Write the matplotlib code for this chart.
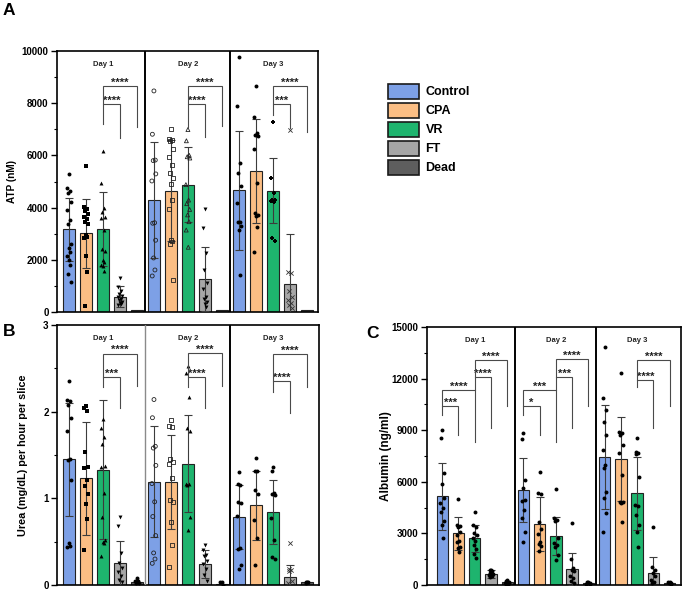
import matplotlib
matplotlib.use("Agg")
import matplotlib.pyplot as plt
from matplotlib.patches import Patch
import numpy as np

plt.rcParams['font.family'] = ['Liberation Sans', 'DejaVu Sans']

groups = ["Control", "CPA", "VR", "FT", "Dead"]
days = ["Day 1", "Day 2", "Day 3"]
colors = ["#7DA0E6", "#FBBE84", "#1EB46E", "#A6A6A6", "#5E5E5E"]

# ---------------- Panel A: ATP (nM) ----------------
atp_mean = [[3170, 3010, 3170, 590, 70],
            [4290, 4650, 4880, 1260, 70],
            [4670, 5390, 4650, 1060, 70]]
atp_sd = [[1210, 1310, 1420, 410, 0],
          [2230, 1940, 1450, 1240, 0],
          [2280, 1990, 1240, 1940, 0]]
atp_pts_d1 = [[5280, 4740, 4650, 4570, 4230, 3910, 3520, 3370, 2590, 2440, 2310, 2150, 1990, 1790, 1460, 1150],
              [5610, 4040, 3930, 3860, 3740, 3650, 3550, 3460, 3370, 2950, 2860, 2820, 2150, 1530, 230],
              [6180, 4930, 4000, 3840, 3650, 3590, 3140, 2410, 2350, 1990, 1920, 1800, 1760, 1570],
              [1320, 950, 820, 700, 620, 560, 500, 450, 400, 350, 300, 250],
              []]
atp_pts_d2 = [[8470, 6810, 5820, 5800, 5290, 5020, 3420, 3400, 2750, 2070, 1610, 1380],
              [7010, 6620, 6600, 6550, 6250, 5950, 5630, 5340, 5150, 4900, 4290, 3930, 2760, 2700, 2600, 1230],
              [6990, 6560, 6000, 5950, 5900, 4880, 4290, 4150, 3930, 3720, 3460, 3140, 2480],
              [3960, 3230, 2270, 1610, 1110, 870, 560, 480, 390, 300, 200],
              []]
atp_pts_d3 = [[9760, 7890, 5700, 5340, 4830, 4190, 3460, 3440, 3300, 3130, 1420],
              [8670, 7480, 6850, 6800, 6740, 6250, 4930, 3780, 3720, 3680, 3270, 2310],
              [7290, 5120, 4550, 4290, 4300, 4250, 4200, 2820, 2730],
              [6970, 1540, 1500, 820, 590, 450, 350, 250, 150],
              []]
# (day, group1, group2, bracket level, left leg end, right leg end, label)
atp_sig = [(0, 2, 4, 8660, 7970, 7090, "****"), (0, 2, 3, 7970, 7200, 6670, "****"),
           (1, 2, 4, 8660, 7960, 7130, "****"), (1, 2, 3, 7960, 7100, 6690, "****"),
           (2, 2, 4, 8660, 7960, 6910, "****"), (2, 2, 3, 7960, 7550, 7040, "***")]

# ---------------- Panel B: Urea ----------------
urea_mean = [[1.45, 1.23, 1.33, 0.25, 0.03],
             [1.19, 1.19, 1.40, 0.24, 0.01],
             [0.78, 0.92, 0.84, 0.09, 0.03]]
urea_sd = [[0.65, 0.65, 0.80, 0.26, 0],
           [0.64, 0.54, 0.56, 0.16, 0],
           [0.37, 0.40, 0.37, 0.14, 0]]
urea_pts_d1 = [[2.35, 2.14, 2.12, 2.08, 1.93, 1.78, 1.45, 1.44, 1.21, 0.48, 0.45, 0.44],
               [2.06, 2.04, 2.01, 1.54, 1.36, 1.35, 1.21, 1.14, 1.05, 0.93, 0.76, 0.40],
               [1.92, 1.81, 1.71, 1.63, 1.37, 1.36, 1.06, 0.79, 0.52, 0.50, 0.48, 0.34],
               [0.79, 0.68, 0.37, 0.25, 0.20, 0.15, 0.10, 0.06, 0.03],
               [0.08, 0.05, 0.05, 0.02, 0.02]]
urea_pts_d2 = [[2.14, 1.93, 1.60, 1.58, 1.38, 1.17, 0.96, 0.79, 0.57, 0.37, 0.30, 0.25],
               [1.90, 1.83, 1.82, 1.45, 1.42, 1.40, 1.23, 0.98, 0.96, 0.73, 0.46, 0.21],
               [2.53, 2.45, 2.17, 1.81, 1.78, 1.17, 1.16, 1.15, 0.79, 0.64],
               [0.46, 0.40, 0.35, 0.33, 0.28, 0.24, 0.18, 0.12, 0.05],
               [0.04, 0.03, 0.0]]
urea_pts_d3 = [[1.30, 1.16, 1.15, 0.96, 0.95, 0.80, 0.43, 0.42, 0.23, 0.19],
               [1.47, 1.32, 1.31, 1.10, 1.05, 0.75, 0.54, 0.23],
               [1.36, 1.31, 1.06, 1.05, 1.04, 0.77, 0.52, 0.32, 0.30],
               [0.48, 0.18, 0.17, 0.16, 0.05, 0.02],
               [0.04, 0.03, 0.03, 0.02]]
urea_sig = [(0, 2, 4, 2.67, 2.40, 2.30, "****"), (0, 2, 3, 2.40, 2.29, 2.04, "***"),
            (1, 2, 4, 2.68, 2.40, 2.30, "****"), (1, 2, 3, 2.40, 2.29, 2.04, "****"),
            (2, 2, 4, 2.66, 2.35, 2.29, "****"), (2, 2, 3, 2.35, 2.23, 1.99, "****")]

# ---------------- Panel C: Albumin ----------------
alb_mean = [[5150, 3000, 2710, 650, 150],
            [5520, 3540, 2850, 930, 100],
            [7420, 7320, 5320, 700, 100]]
alb_sd = [[1950, 970, 770, 250, 0],
          [1870, 1550, 1120, 910, 0],
          [3030, 2420, 2130, 910, 0]]
alb_pts_d1 = [[9000, 8520, 6490, 5900, 5030, 4740, 4490, 4260, 3720, 3480, 2710],
              [4990, 3480, 3420, 3380, 3060, 2900, 2560, 2480, 2220, 2130, 1900],
              [4220, 3480, 3400, 3000, 2900, 2710, 2560, 2320, 2100, 1780, 1550],
              [900, 870, 800, 700, 650, 600, 550, 480],
              [300, 250, 200, 150, 120, 100, 80, 50]]
alb_pts_d2 = [[8810, 8460, 6100, 5620, 4940, 4900, 4360, 3870, 3100, 2520],
              [6580, 5330, 5300, 3680, 3250, 2940, 2520, 2380, 2280, 2000],
              [5560, 3910, 3800, 3700, 2710, 2420, 2300, 2200, 1740, 1450],
              [3580, 1490, 1000, 900, 800, 540, 400, 250, 100],
              [200, 150, 120, 100, 80, 50]]
alb_pts_d3 = [[13840, 10880, 10160, 9480, 8710, 7840, 6970, 6800, 5420, 5030, 4160, 3100],
              [12330, 8900, 8820, 8750, 8130, 7650, 6390, 4840, 4800, 4750, 3680],
              [8520, 7740, 7650, 7600, 6290, 4650, 4600, 4070, 3480, 3100, 2220],
              [3350, 1060, 900, 700, 500, 300, 200, 100],
              [200, 150, 120, 100, 80]]
alb_sig = [(0, 0, 1, 10400, 9870, 8710, "***"), (0, 0, 2, 11320, 10400, 8320, "****"),
           (0, 2, 3, 12100, 11320, 9100, "****"), (0, 2, 4, 13100, 12100, 10410, "****"),
           (1, 0, 1, 10400, 9870, 8710, "*"), (1, 0, 2, 11320, 10400, 8320, "***"),
           (1, 2, 3, 12100, 11320, 9100, "***"), (1, 2, 4, 13150, 12100, 10410, "****"),
           (2, 2, 3, 11900, 11520, 9100, "****"), (2, 2, 4, 13100, 11900, 10410, "****")]

# ---------------- drawing ----------------
W, H = 684, 593
fig = plt.figure(figsize=(W / 100, H / 100), dpi=100)


def fax(l, t, r, b):
    return fig.add_axes([l / W, 1 - b / H, (r - l) / W, (b - t) / H])


OFFS = [0.0, -0.09, 0.08, -0.04, 0.11, -0.12, 0.04, -0.07, 0.1, -0.02, 0.06, -0.1, 0.02, 0.09, -0.05, 0.12]

EBC = "#3c3c3c"


def draw_panel(ax, means, sds, pts_by_day, sig, ymax, major, minor, markers, fills, msize,
               ylabel, ylab_x, ylab_fs, sep_colors, day_y, xlim):
    for d in range(3):
        xs = [d * 5 + g for g in range(5)]
        ax.bar(xs, means[d], width=0.7, color=colors, edgecolor="#222222", linewidth=0.8, zorder=2)
        for g in range(5):
            if sds[d][g] > 0:
                ax.errorbar(xs[g], means[d][g], yerr=sds[d][g], color=EBC, lw=0.8,
                            capsize=3, capthick=0.8, zorder=3)
            vals = pts_by_day[d][g]
            if len(vals):
                xo = [xs[g] + OFFS[i % len(OFFS)] for i in range(len(vals))]
                m = markers[d][g]
                filled = fills[d][g]
                if m in ("x", "+"):
                    ax.scatter(xo, vals, marker=m, s=msize * 1.2, c="#333333", linewidths=0.6, zorder=4)
                elif filled:
                    ax.scatter(xo, vals, marker=m, s=msize, c="black", linewidths=0, zorder=4)
                else:
                    ax.scatter(xo, vals, marker=m, s=msize, facecolors="none", edgecolors="#222222",
                               linewidths=0.6, zorder=4)
        ax.text(d * 5 + 2, day_y, days[d], ha="center", va="center", fontsize=5.5,
                fontweight="bold", color="#222222")
    for i, xsep in enumerate([4.45, 9.45]):
        ax.axvline(xsep, color=sep_colors[i], lw=1.4 if sep_colors[i] == "black" else 1.0, zorder=5)
    for (d, g1, g2, yl, y1, y2, lab) in sig:
        x1, x2 = d * 5 + g1, d * 5 + g2
        ax.plot([x1, x1, x2, x2], [y1, yl, yl, y2], color="#4a4a4a", lw=0.8, zorder=5,
                solid_joinstyle="miter")
        ax.annotate(lab, ((x1 + x2) / 2, yl), xytext=(0, 0.2), textcoords="offset points",
                    ha="center", va="baseline", fontsize=8, fontweight="bold", color="#222222")
    ax.set_xlim(*xlim)
    ax.set_ylim(0, ymax)
    ax.set_yticks(np.arange(0, ymax + major / 2, major))
    ax.set_yticks(np.arange(0, ymax + minor / 2, minor), minor=True)
    ax.set_xticks([])
    ax.tick_params(axis="y", which="major", length=4, width=1.0, labelsize=7, pad=2)
    ax.tick_params(axis="y", which="minor", length=2.5, width=0.8)
    for lbl in ax.get_yticklabels():
        lbl.set_fontweight("bold")
    for s in ax.spines.values():
        s.set_linewidth(1.2)
        s.set_color("black")
    ax.set_ylabel(ylabel, fontsize=ylab_fs, fontweight="bold")
    ax.yaxis.set_label_coords(ylab_x, 0.5)


markA = [["o", "s", "^", "v", "o"], ["o", "s", "^", "v", "o"], ["o", "o", "P", "x", "o"]]
fillA = [[True] * 5, [False, False, False, True, True], [True, True, True, True, True]]
markB = [["o", "s", "^", "v", "o"], ["o", "s", "^", "v", "o"], ["o", "o", "o", "x", "o"]]
fillB = [[True] * 5, [False, False, True, True, True], [True] * 5]
markC = [["o"] * 5] * 3
fillC = [[True] * 5] * 3

axA = fax(57, 51, 318, 312)
draw_panel(axA, atp_mean, atp_sd, [atp_pts_d1, atp_pts_d2, atp_pts_d3], atp_sig, 10000, 2000, 1000,
           markA, fillA, 8, "ATP (nM)", -0.155, 7.2, ["black", "black"], 9500, (-0.7, 14.65))

axB = fax(57, 325, 319, 585)
draw_panel(axB, urea_mean, urea_sd, [urea_pts_d1, urea_pts_d2, urea_pts_d3], urea_sig, 3, 1, 0.5,
           markB, fillB, 8, "Urea (mg/dL) per hour per slice", -0.11, 7.8, ["#8a8a8a", "black"], 2.85,
           (-0.7, 14.7))

axC = fax(426.5, 327, 681, 585)
draw_panel(axC, alb_mean, alb_sd, [alb_pts_d1, alb_pts_d2, alb_pts_d3], alb_sig, 15000, 3000, 1500,
           markC, fillC, 8, "Albumin (ng/ml)", -0.135, 8.5, ["black", "black"], 14200, (-0.97, 14.7))

# panel letters
fig.text(3 / W, 1 - 3 / H, "A", fontsize=12.5, fontweight="bold", va="top", ha="left")
fig.text(3 / W, 1 - 324 / H, "B", fontsize=12.5, fontweight="bold", va="top", ha="left")
fig.text(366 / W, 1 - 326 / H, "C", fontsize=12.5, fontweight="bold", va="top", ha="left")

# legend
handles = [Patch(facecolor=c, edgecolor="#1a1a1a", linewidth=1.2) for c in colors]
fig.legend(handles, groups, loc="upper left", bbox_to_anchor=(388 / W, 1 - 84 / H),
           frameon=False, borderpad=0, borderaxespad=0,
           prop={"weight": "bold", "size": 9}, handlelength=2.45, handleheight=1.42,
           labelspacing=0.35, handletextpad=0.55)

fig.savefig("out.png", dpi=100)
